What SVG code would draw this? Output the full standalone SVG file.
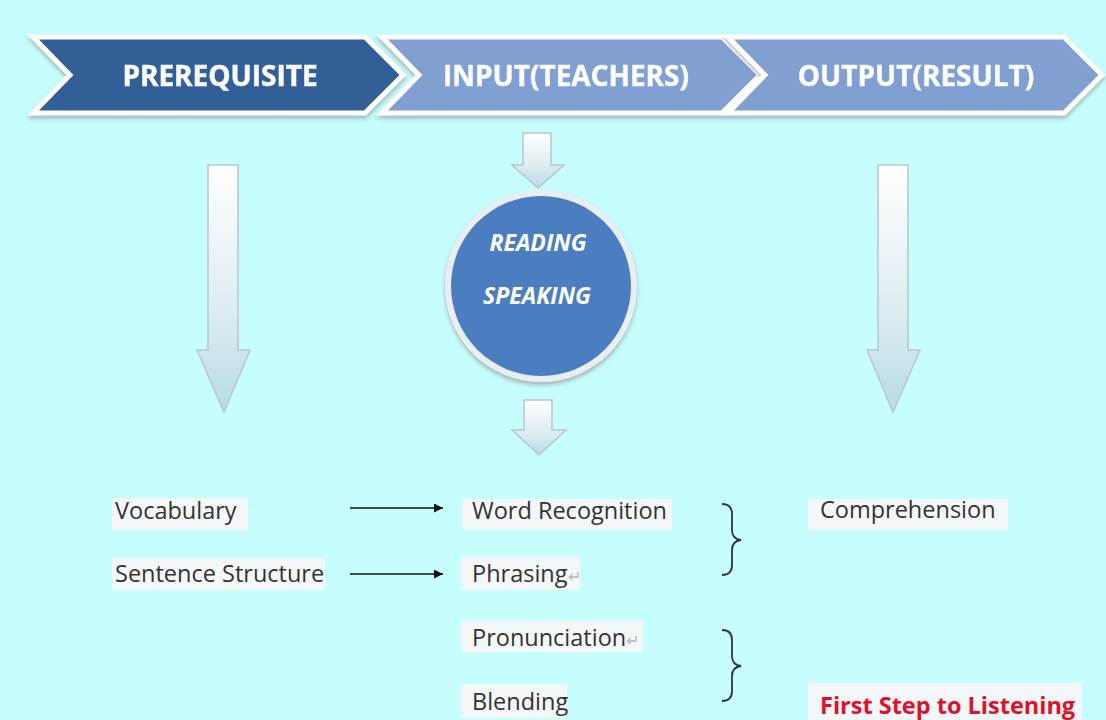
<svg xmlns="http://www.w3.org/2000/svg" width="1106" height="720" viewBox="0 0 1106 720">
<defs>
<linearGradient id="downg" x1="0" y1="0" x2="0" y2="1">
<stop offset="0" stop-color="#ffffff"/><stop offset="0.6" stop-color="#dcecf1"/><stop offset="1" stop-color="#b8dbe6"/>
</linearGradient>
<marker id="ah" viewBox="0 0 10 10" refX="10" refY="5" markerWidth="9" markerHeight="9" markerUnits="userSpaceOnUse" orient="auto">
<path d="M0,0 L10,5 L0,10 z" fill="#111"/>
</marker>
<filter id="sh" x="-10%" y="-10%" width="120%" height="130%">
<feDropShadow dx="0" dy="3" stdDeviation="2" flood-color="#888" flood-opacity="0.6"/>
</filter>
</defs>
<style>
.chev{stroke:#ffffff;stroke-width:5;stroke-linejoin:miter}
.htxt{font-family:"Open Sans","Noto Sans",sans-serif;font-weight:bold;font-size:28px;fill:#ffffff;stroke:#e8f0ff;stroke-width:0.6}
.ctxt{font-family:"Open Sans","Noto Sans",sans-serif;font-style:italic;font-weight:bold;font-size:23px;fill:#ffffff}
.darr{fill:url(#downg);stroke:#b9c6cc;stroke-width:1.5}
.lbl{font-family:"Open Sans","Noto Sans",sans-serif;font-size:23.5px;fill:#333333}
.hl{fill:#f4f7f7}
.ret{fill:#b8b8b8;font-size:16px}
.brace{fill:none;stroke:#333;stroke-width:1.8}
.conn{stroke:#111;stroke-width:1.6;fill:none}
</style>
<rect width="1106" height="720" fill="#c6fdfd"/>

<g id="chevron-prerequisite" filter="url(#sh)">
<polygon class="chev" points="33,37 365,37 403,75 365,113 33,113 70,75" fill="#335f96"/>
<text class="htxt" x="220" y="86" text-anchor="middle">PREREQUISITE</text>
</g>
<g id="chevron-input" filter="url(#sh)">
<polygon class="chev" points="382,37 722,37 760,75 722,113 382,113 419,75" fill="#819fd0"/>
<text class="htxt" x="566" y="86" text-anchor="middle">INPUT(TEACHERS)</text>
</g>
<g id="chevron-output" filter="url(#sh)">
<polygon class="chev" points="728,37 1064,37 1102,75 1064,113 728,113 765,75" fill="#819fd0"/>
<text class="htxt" x="916" y="86" text-anchor="middle">OUTPUT(RESULT)</text>
</g>

<g id="connectors">
<polygon class="darr" points="208,165 238,165 238,350 250,350 224,412 197,350 208,350"/>
<polygon class="darr" points="878,165 908,165 908,350 920,350 893,412 867,350 878,350"/>
<polygon class="darr" points="523,133 551,133 551,165 564,165 538,188 512,165 523,165"/>
<polygon class="darr" points="524,400 552,400 552,430 566,430 539,455 512,430 524,430"/>
<line class="conn" x1="350" y1="508" x2="443" y2="508" marker-end="url(#ah)"/>
<line class="conn" x1="350" y1="574" x2="443" y2="574" marker-end="url(#ah)"/>
<path class="brace" d="M722,504 Q732,504 732,514 L732,530 Q732,539 741,540 Q732,541 732,550 L732,565 Q732,575 722,575"/>
<path class="brace" d="M722,630 Q732,630 732,640 L732,656 Q732,665 741,666 Q732,667 732,676 L732,691 Q732,701 722,701"/>
</g>

<g id="circle-reading-speaking">
<circle cx="541" cy="286" r="96" fill="#e8eef2" filter="url(#sh)"/>
<circle cx="541" cy="286" r="90" fill="#4a7ec0"/>
<text class="ctxt" x="538" y="251" text-anchor="middle">READING</text>
<text class="ctxt" x="537" y="304" text-anchor="middle">SPEAKING</text>
</g>

<g id="vocabulary"><rect class="hl" x="112" y="498" width="136" height="32"/><text class="lbl" x="115" y="519">Vocabulary</text></g>
<g id="sentence-structure"><rect class="hl" x="112" y="558" width="213" height="32"/><text class="lbl" x="115" y="582">Sentence Structure</text></g>
<g id="word-recognition"><rect class="hl" x="462" y="499" width="210" height="31"/><text class="lbl" x="472" y="519">Word Recognition</text></g>
<g id="phrasing"><rect class="hl" x="461" y="557" width="119" height="33"/><text class="lbl" x="472" y="582">Phrasing<tspan class="ret">↵</tspan></text></g>
<g id="pronunciation"><rect class="hl" x="461" y="621" width="182" height="31"/><text class="lbl" x="472" y="646">Pronunciation<tspan class="ret">↵</tspan></text></g>
<g id="blending"><rect class="hl" x="461" y="684" width="106" height="34"/><text class="lbl" x="472" y="710">Blending</text></g>
<g id="comprehension"><rect class="hl" x="808" y="499" width="200" height="31"/><text class="lbl" x="820" y="518">Comprehension</text></g>
<g id="first-step"><rect class="hl" x="808" y="683" width="274" height="37"/><text x="820" y="714" font-family="Open Sans, Noto Sans, sans-serif" font-weight="bold" font-size="23.5" fill="#e0102a">First Step to Listening</text></g>
</svg>
